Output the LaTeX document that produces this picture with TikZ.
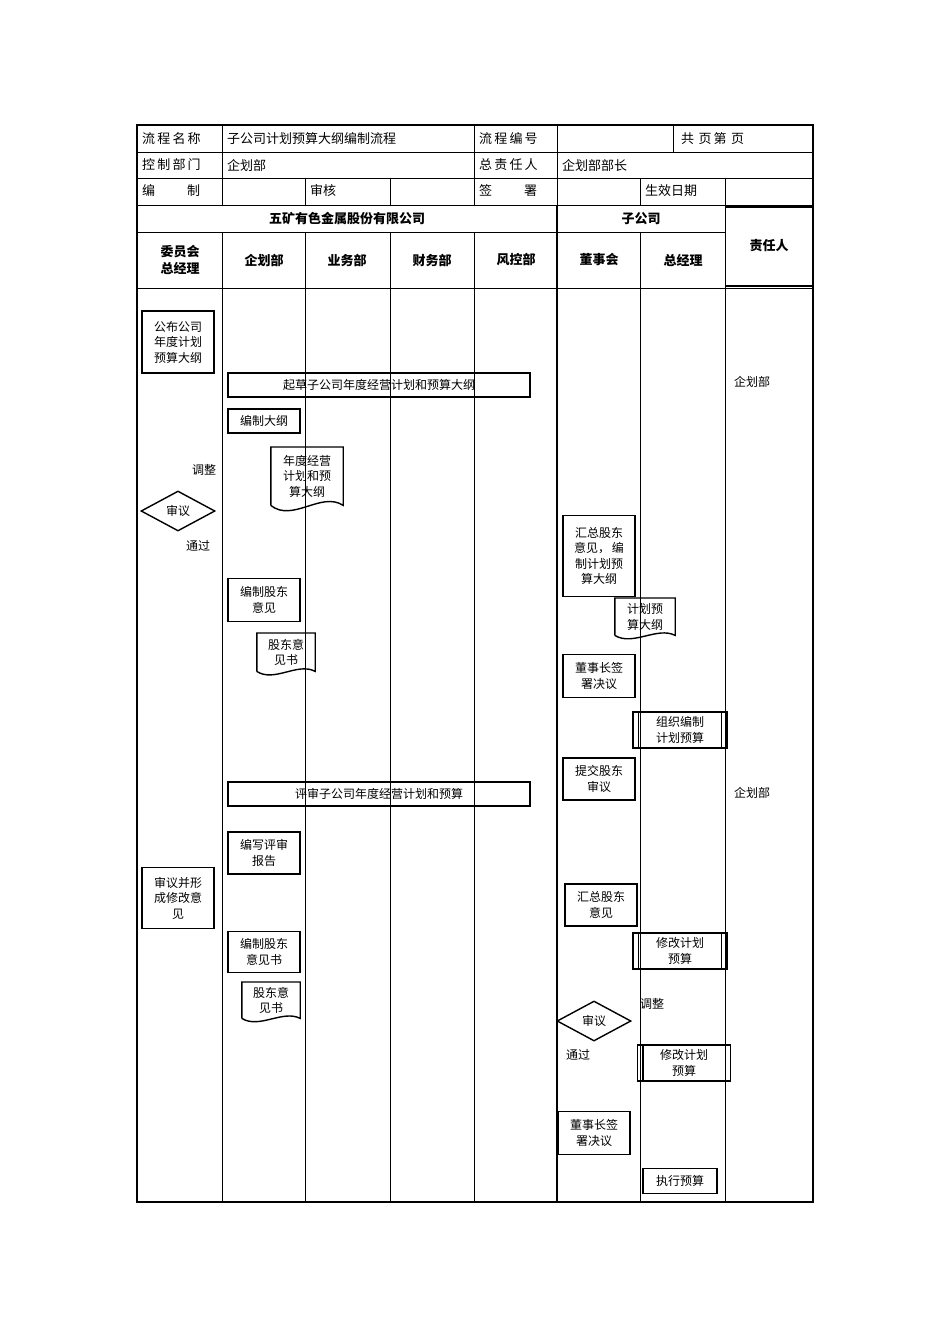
\documentclass[tikz,border=0pt]{standalone}
\usepackage{fontspec}
\setmainfont{Noto Sans CJK SC}
\usetikzlibrary{shapes.geometric,calc}
\tikzset{
  cell/.style={anchor=west,font=\fontsize{13}{13}\selectfont,inner sep=0pt},
  headtxt/.style={font=\fontsize{13}{17}\selectfont\bfseries,align=center,inner sep=0pt},
  stepbox/.style={draw,line width=1.4pt,align=center,font=\fontsize{12}{15.5}\selectfont,inner sep=2pt},
  docbox/.style={align=center,font=\fontsize{12}{15.5}\selectfont,inner sep=2pt,anchor=north},
  decide/.style={draw,diamond,aspect=1.85,line width=1.4pt,font=\fontsize{12}{12}\selectfont,inner sep=1pt},
  note/.style={font=\fontsize{12}{12}\selectfont,inner sep=0pt}
}
% document symbol with wavy bottom
\newcommand{\docnode}[6]{%
  \node[docbox,minimum width=#4,minimum height=#5] (#1) at (#2,#3) {#6};
  \draw[line width=1.4pt] (#1.south west) -- (#1.north west) -- (#1.north east) -- (#1.south east)
    .. controls ($(#1.south east)+(-0.3*#4,-0.25*#5)$) and ($(#1.south west)+(0.3*#4,0.3*#5)$) .. (#1.south west);
}
% predefined process
\newcommand{\prenode}[6]{%
  \node[stepbox,minimum width=#4,minimum height=#5] (#1) at (#2,#3) {#6};
  \draw[line width=1.4pt] ($(#1.north west)+(6,0)$) -- ($(#1.south west)+(6,0)$)
    ($(#1.north east)+(-6,0)$) -- ($(#1.south east)+(-6,0)$);
}
\begin{document}
\begin{tikzpicture}[x=1pt,y=-1pt]
\useasboundingbox (0,0) rectangle (950,1344);
% head table
\draw[line width=0.6pt] (137,152) -- (813,152) (137,178) -- (813,178) (137,205) -- (813,205);
\draw[line width=0.6pt] (222,125) -- (222,205) (474,125) -- (474,205) (557,125) -- (557,205);
\draw[line width=0.6pt] (673,125) -- (673,152) (305,178) -- (305,205) (390,178) -- (390,205)
  (640,178) -- (640,205) (725,178) -- (725,205);
\node[cell] (n11) at (142,139) {流\,程\,名\,称};
\node[cell] (n12) at (227,139) {子公司计划预算大纲编制流程};
\node[cell] (n13) at (479,139) {流\,程\,编\,号};
\node[cell] (n14) at (681,139) {共\,\,页\,第\,\,页};
\node[cell] (n21) at (142,165) {控\,制\,部\,门};
\node[cell] (n22) at (227,165) {企划部};
\node[cell] (n23) at (479,165) {总\,责\,任\,人};
\node[cell] (n24) at (562,165) {企划部部长};
\node[cell] (n31) at (142,191) {编\hspace{32pt}制};
\node[cell] (n32) at (310,191) {审核};
\node[cell] (n33) at (479,191) {签\hspace{32pt}署};
\node[cell] (n34) at (645,191) {生效日期};
% lanes
\draw[line width=0.6pt] (137,232) -- (725,232) (137,288) -- (813,288);
\draw[line width=0.6pt] (725,205) -- (725,1202);
\foreach \lx in {222,305,390,474,640} \draw[line width=0.6pt] (\lx,232) -- (\lx,1202);
\draw[line width=1.2pt] (557,205) -- (557,1202);
\draw[line width=2pt] (725,207) -- (813,207) (725,286) -- (813,286);
\node[headtxt] (org1) at (347,219) {五矿有色金属股份有限公司};
\node[headtxt] (org2) at (641,219) {子公司};
\node[headtxt] (h1) at (180,260) {委员会\\总经理};
\node[headtxt] (h2) at (264,260) {企划部};
\node[headtxt] (h3) at (347,260) {业务部};
\node[headtxt] (h4) at (432,260) {财务部};
\node[headtxt] (h5) at (516,260) {风控部};
\node[headtxt] (h6) at (599,260) {董事会};
\node[headtxt] (h7) at (683,260) {总经理};
\node[headtxt] (h8) at (769,246) {责任人};
\draw[line width=2pt] (137,125) rectangle (813,1202);
% flow
\node[stepbox,minimum width=72,minimum height=62] (pub) at (178,342) {公布公司\\年度计划\\预算大纲};
\node[stepbox,minimum width=302,minimum height=24] (draft) at (379,385) {起草子公司年度经营计划和预算大纲};
\node[stepbox,minimum width=72,minimum height=24] (outl) at (264,421) {编制大纲};
\docnode{doc1}{307}{447}{72}{58}{年度经营\\计划和预\\算大纲}
\node[note] (adj1) at (204,470) {调整};
\node[decide,minimum width=74,minimum height=40] (rev1) at (178,511) {审议};
\node[note] (pass1) at (198,546) {通过};
\node[stepbox,minimum width=72,minimum height=43] (opin) at (264,600) {编制股东\\意见};
\docnode{doc2}{286}{633}{58}{38}{股东意\\见书}
\node[stepbox,minimum width=72,minimum height=81] (sum1) at (599,556) {汇总股东\\意见，\,编\\制计划预\\算大纲};
\docnode{doc3}{645}{598}{60}{37}{计划预\\算大纲}
\node[stepbox,minimum width=72,minimum height=43] (sign1) at (599,676) {董事长签\\署决议};
\prenode{org}{680}{730}{94}{36}{组织编制\\计划预算}
\node[stepbox,minimum width=72,minimum height=42] (subm) at (599,779) {提交股东\\审议};
\node[note] (resp1) at (752,382) {企划部};
\node[note] (resp2) at (752,793) {企划部};
\node[stepbox,minimum width=302,minimum height=24] (eval) at (379,794) {评审子公司年度经营计划和预算};
\node[stepbox,minimum width=72,minimum height=42] (rep) at (264,853) {编写评审\\报告};
\node[stepbox,minimum width=72,minimum height=61] (mod) at (178,898) {审议并形\\成修改意\\见};
\node[stepbox,minimum width=72,minimum height=42] (sum2) at (601,905) {汇总股东\\意见};
\node[stepbox,minimum width=72,minimum height=41] (opin2) at (264,952) {编制股东\\意见书};
\docnode{doc4}{271}{982}{58}{36}{股东意\\见书}
\prenode{chg1}{680}{951}{94}{36}{修改计划\\预算}
\node[note] (adj2) at (652,1004) {调整};
\node[decide,minimum width=74,minimum height=40] (rev2) at (594,1021) {审议};
\node[note] (pass2) at (578,1055) {通过};
\prenode{chg2}{684}{1063}{93}{36}{修改计划\\预算}
\node[stepbox,minimum width=72,minimum height=43] (sign2) at (594,1133) {董事长签\\署决议};
\node[stepbox,minimum width=74,minimum height=25] (exec) at (680,1181) {执行预算};
\end{tikzpicture}
\end{document}
